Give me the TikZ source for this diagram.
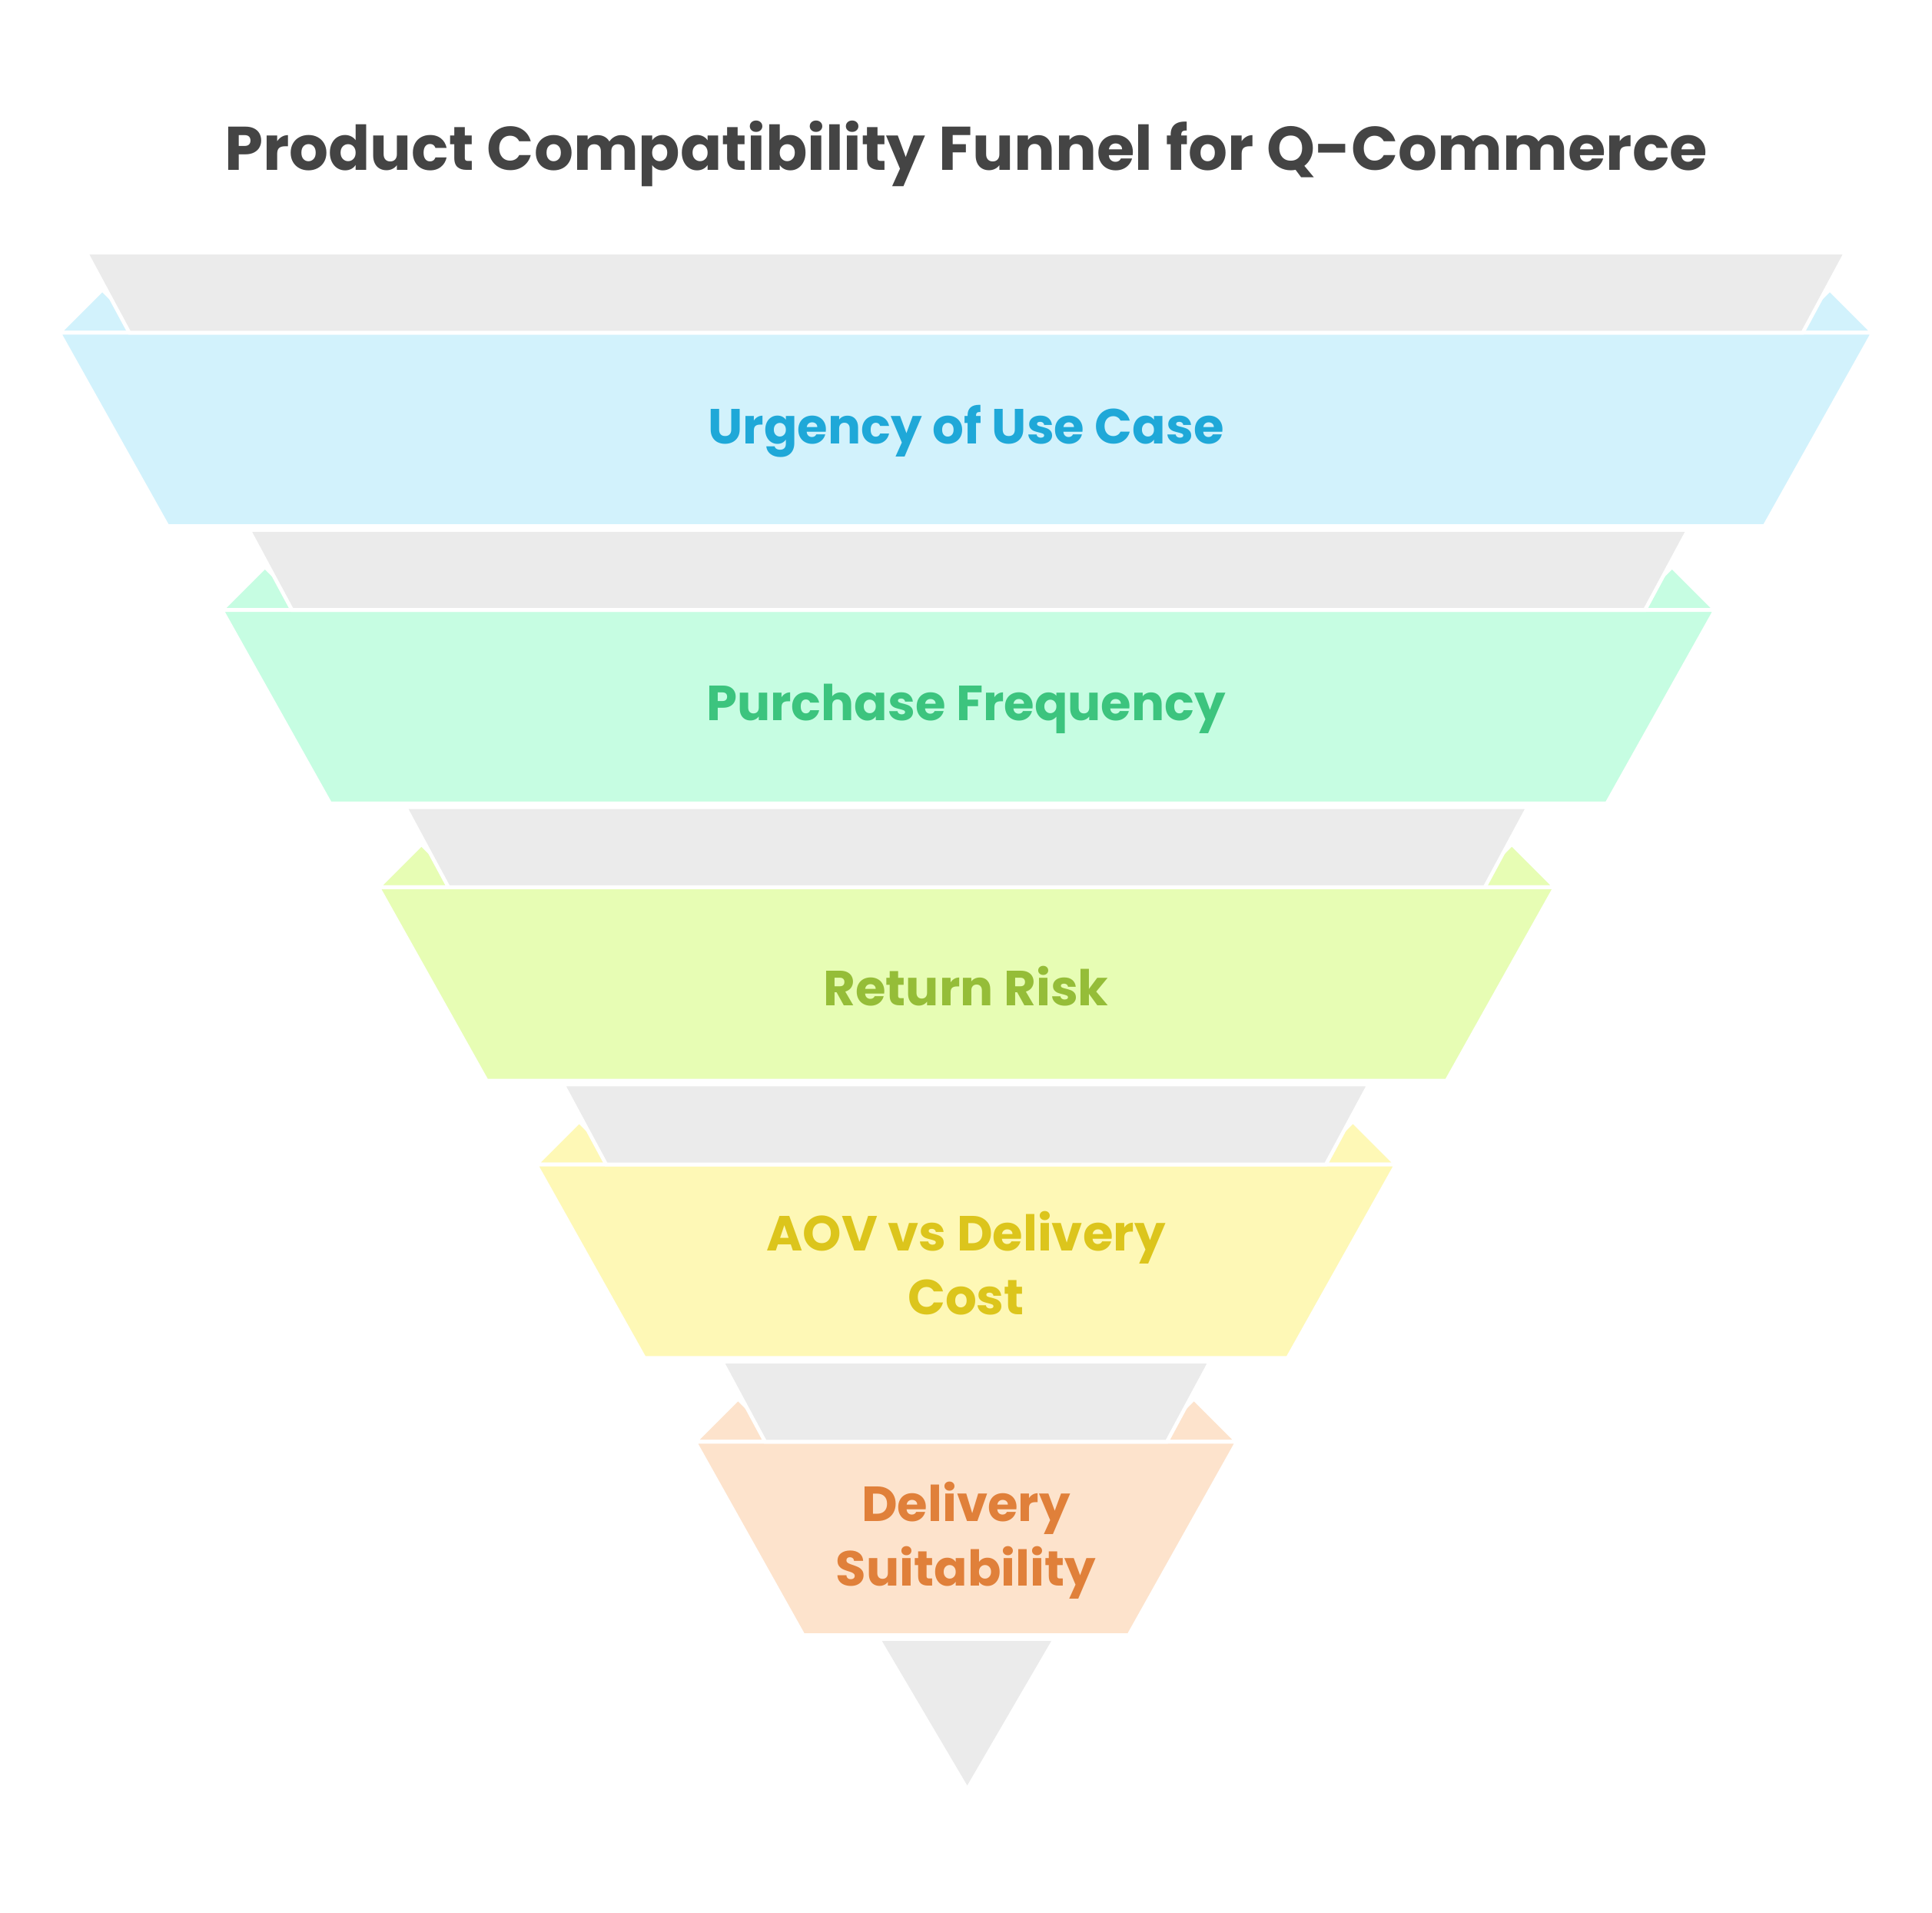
\documentclass[tikz,border=0pt]{standalone}
\usepackage{fontspec}
\setmainfont{Poppins}
\usepackage{xcolor}
\definecolor{greyband}{HTML}{EBEBEB}
\definecolor{titlegrey}{HTML}{444444}
\definecolor{fillA}{HTML}{D2F2FC}\definecolor{textA}{HTML}{1FA8D8}
\definecolor{fillB}{HTML}{C6FDE2}\definecolor{textB}{HTML}{3CC47E}
\definecolor{fillC}{HTML}{E7FDB4}\definecolor{textC}{HTML}{95BD38}
\definecolor{fillD}{HTML}{FEF8B6}\definecolor{textD}{HTML}{DCC51C}
\definecolor{fillE}{HTML}{FDE3CC}\definecolor{textE}{HTML}{E0803A}
\tikzset{
  band/.style={draw=white, line width=1.5pt, line join=miter},
  label/.style={font=\bfseries\fontsize{20}{26}\selectfont, align=center}
}
\begin{document}
\begin{tikzpicture}[x=.5pt, y=-.5pt]
  \useasboundingbox (0,0) rectangle (1568,1552);
  \node[font=\bfseries\fontsize{25}{30}\selectfont, text=titlegrey] (title) at (784,125) {Product Compatibility Funnel for Q-Commerce};
  % colored stages with their ears, then the grey band above each
  \foreach \i/\y/\l/\r/\c/\t in {0/270/48/1520/A/Urgency of Use Case, 1/495/180/1392/B/Purchase Frequency, 2/720/307/1262/C/Return Risk, 3/945/435/1133/D/{AOV vs Delivery\\Cost}, 4/1170/564/1004/E/{Delivery\\Suitability}}{
    \draw[band, fill=fill\c] (\l,\y) -- (\l+35,\y-35) -- (\l+70,\y) -- cycle;
    \draw[band, fill=fill\c] (\r,\y) -- (\r-35,\y-35) -- (\r-70,\y) -- cycle;
    \draw[band, fill=fill\c] (\l,\y) -- (\r,\y) -- (\r-88,\y+157) -- (\l+88,\y+157) -- cycle;
    \draw[band, fill=greyband] (\l+22,\y-65) -- (\r-22,\y-65) -- (\r-57,\y) -- (\l+57,\y) -- cycle;
    \node[label, text=text\c] (stage\i) at (784,\y+80) {\t};
  }
  \draw[band, fill=greyband] (713,1330) -- (856,1330) -- (785,1452) -- cycle;
\end{tikzpicture}
\end{document}
